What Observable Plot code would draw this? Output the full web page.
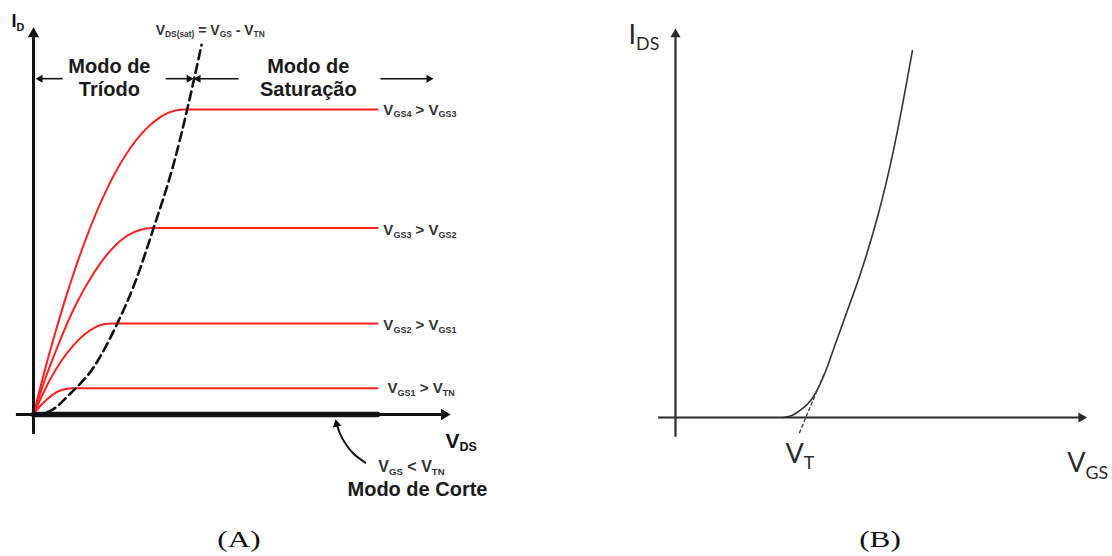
<!DOCTYPE html>
<html><head><meta charset="utf-8">
<script src="https://cdn.jsdelivr.net/npm/d3@7"></script>
<script src="https://cdn.jsdelivr.net/npm/@observablehq/plot@0.6"></script>
<style>
html,body{margin:0;padding:0;background:#fff;}
#wrap{position:relative;width:1112px;height:556px;overflow:hidden;background:#fff;}
#a,#b{position:absolute;top:0;}
#a{left:0}#b{left:556px}
.cap{position:absolute;top:526px;width:100px;text-align:center;font-family:"Liberation Serif","Times New Roman",serif;font-size:24px;line-height:27px;color:#111;transform:scaleX(1.3);transform-origin:center;}
svg text{white-space:pre;}
</style></head><body>
<div id="wrap"><div id="a"></div><div id="b"></div>
<div class="cap" style="left:189px">(A)</div><div class="cap" style="left:830px">(B)</div></div>
<script>
// ---------- Panel A: I_D vs V_DS (arbitrary units) ----------
const curveVGS4 = [[0,0],[0.36,1.5],[0.72,2.84],[1.26,4.56],[1.8,5.93],[2.34,6.93],[2.88,7.58],[3.24,7.82],[3.6,7.9],[8.25,7.9]];
const curveVGS3 = [[0,0],[0.28,0.92],[0.57,1.74],[0.99,2.79],[1.42,3.62],[1.84,4.24],[2.26,4.64],[2.55,4.78],[2.83,4.83],[8.25,4.83]];
const curveVGS2 = [[0,0],[0.19,0.45],[0.37,0.85],[0.65,1.36],[0.94,1.77],[1.22,2.07],[1.5,2.27],[1.68,2.34],[1.87,2.36],[8.25,2.36]];
const curveVGS1 = [[0,0],[0.09,0.13],[0.18,0.24],[0.32,0.39],[0.46,0.51],[0.59,0.6],[0.73,0.65],[0.82,0.67],[0.91,0.68],[8.25,0.68]];
const satLocus = [[0,0],[0.41,0.10],[0.89,0.55],[1.44,1.22],[2.01,2.36],[2.40,3.32],[2.88,4.83],[3.36,6.49],[3.69,7.92],[4.03,9.58]];
const cutoffLine = [[0,0],[8.25,0]];
const cutoffPointer = [[7.96,-1.25],[7.67,-1.01],[7.48,-0.75],[7.36,-0.52],[7.29,-0.31]];

const curveLabels = ["V_{GS4} > V_{GS3}","V_{GS3} > V_{GS2}","V_{GS2} > V_{GS1}","V_{GS1} > V_{TN}"];
const curveLabelX = [8.39, 8.39, 8.39, 8.49];
const curveLabelY = [7.77, 4.65, 2.18, 0.55];

const regionArrowFrom = [0.70, 3.17, 4.92, 8.32];
const regionArrowTo   = [0.16, 3.73, 3.95, 9.48];
const regionArrowRot  = [-90, 90, -90, 90];
const regionArrowY = 8.70;

const modeTexts = ["Modo de","Tríodo","Modo de","Saturação"];
const modeX = [1.82, 1.82, 6.59, 6.59];
const modeY = [8.86, 8.26, 8.86, 8.26];

// ---------- Panel B: I_DS vs V_GS ----------
const transferCurve = [[2.62,0],[2.84,0.06],[3.06,0.21],[3.28,0.44],[3.47,0.77],[3.67,1.26],[3.86,1.83],[4.05,2.39],[4.49,3.70],[4.90,5.14],[5.29,6.86],[5.75,9.43]];
const tangentLine = [[3.01,-0.39],[3.62,1.16]];

function applySub(svg, scale, shift) {
  for (const t of svg.querySelectorAll("text")) {
    const s = t.textContent;
    if (!s.includes("_{")) continue;
    while (t.firstChild) t.removeChild(t.firstChild);
    const parts = s.split(/_\{([^}]*)\}/);
    let prevSub = false;
    parts.forEach((p, i) => {
      if (p === "") return;
      const ts = document.createElementNS("http://www.w3.org/2000/svg", "tspan");
      ts.textContent = p;
      if (i % 2 === 1) {
        ts.setAttribute("font-size", (scale * 100) + "%");
        ts.setAttribute("dy", shift + "em");
        prevSub = true;
      } else {
        if (prevSub) ts.setAttribute("dy", (-shift * scale) + "em");
        prevSub = false;
      }
      t.appendChild(ts);
    });
  }
}

const fA = {fontFamily: "Liberation Sans, Arial, sans-serif", fontWeight: "bold"};
const red = "#ff1f1f";
const ink = "#111";

const plotA = Plot.plot({
  width: 556, height: 520,
  x: {domain: [0, 10], range: [33, 450], axis: null},
  y: {domain: [0, 10], range: [414, 28], axis: null},
  style: {background: "white", overflow: "visible"},
  marks: [
    Plot.line(curveVGS4, {stroke: red, strokeWidth: 2, curve: "monotone-x"}),
    Plot.line(curveVGS3, {stroke: red, strokeWidth: 2, curve: "monotone-x"}),
    Plot.line(curveVGS2, {stroke: red, strokeWidth: 2, curve: "monotone-x"}),
    Plot.line(curveVGS1, {stroke: red, strokeWidth: 2, curve: "monotone-x"}),
    Plot.line(satLocus, {stroke: ink, strokeWidth: 2.6, strokeDasharray: "9,5", curve: "monotone-x"}),
    // axes
    Plot.ruleY([0], {x1: -0.41, x2: 9.8, stroke: ink, strokeWidth: 3}),
    Plot.ruleX([0], {y1: -0.52, y2: 9.82, stroke: ink, strokeWidth: 3}),
    Plot.line(cutoffLine, {stroke: ink, strokeWidth: 5.5}),
    Plot.dot([[9.85, 0]], {symbol: "triangle", r: 4.2, rotate: 90, fill: ink, stroke: "none"}),
    Plot.dot([[0, 9.86]], {symbol: "triangle", r: 4.2, rotate: 0, fill: ink, stroke: "none"}),
    // region arrows
    Plot.link(d3.range(4), {x1: i => regionArrowFrom[i], x2: i => regionArrowTo[i], y1: () => regionArrowY, y2: () => regionArrowY, stroke: ink, strokeWidth: 1.6}),
    Plot.dot(d3.range(4), {x: i => regionArrowTo[i], y: () => regionArrowY, symbol: "triangle", r: 3, rotate: i => regionArrowRot[i], fill: ink, stroke: "none"}),
    // cutoff pointer
    Plot.line(cutoffPointer, {stroke: ink, strokeWidth: 2, curve: "catmull-rom"}),
    Plot.dot([[7.27, -0.25]], {symbol: "triangle", r: 3.3, rotate: -12, fill: ink, stroke: "none"}),
    // texts
    Plot.text(modeTexts, {x: (d, i) => modeX[i], y: (d, i) => modeY[i], text: d => d, ...fA, fontSize: 20, fill: "#1a1a1a", textAnchor: "middle", lineAnchor: "bottom"}),
    Plot.text(curveLabels, {x: (d, i) => curveLabelX[i], y: (d, i) => curveLabelY[i], text: d => d, ...fA, fontSize: 15, fill: "#333", textAnchor: "start", lineAnchor: "bottom"}),
    Plot.text(["I_{D}"], {x: () => -0.53, y: () => 10.03, text: d => d, ...fA, fontSize: 18, fill: ink, textAnchor: "start", lineAnchor: "bottom"}),
    Plot.text(["V_{DS(sat)} = V_{GS} - V_{TN}"], {x: () => 2.93, y: () => 9.84, text: d => d, ...fA, fontSize: 14, fill: "#333", textAnchor: "start", lineAnchor: "bottom"}),
    Plot.text(["V_{DS}"], {x: () => 9.88, y: () => -0.86, text: d => d, ...fA, fontSize: 21, fill: ink, textAnchor: "start", lineAnchor: "bottom"}),
    Plot.text(["V_{GS} < V_{TN}"], {x: () => 8.27, y: () => -1.50, text: d => d, ...fA, fontSize: 16, fill: "#333", textAnchor: "start", lineAnchor: "bottom"}),
    Plot.text(["Modo de Corte"], {x: () => 7.53, y: () => -2.12, text: d => d, ...fA, fontSize: 20, fill: "#1a1a1a", textAnchor: "start", lineAnchor: "bottom"})
  ]
});
applySub(plotA, 0.6, 0.3);
document.getElementById("a").appendChild(plotA);

const fB = {fontFamily: "Lato, Carlito, Open Sans, sans-serif", fontWeight: "normal"};
const inkB = "#2a2a2a";
const plotB = Plot.plot({
  width: 556, height: 520,
  x: {domain: [0, 10], range: [119, 531], axis: null},
  y: {domain: [0, 10], range: [417, 28], axis: null},
  style: {background: "white", overflow: "visible"},
  marks: [
    Plot.ruleY([0], {x1: -0.41, x2: 9.8, stroke: inkB, strokeWidth: 2.2}),
    Plot.ruleX([0], {y1: -0.51, y2: 9.8, stroke: inkB, strokeWidth: 2.2}),
    Plot.dot([[9.85, 0]], {symbol: "triangle", r: 3.8, rotate: 90, fill: inkB, stroke: "none"}),
    Plot.dot([[0, 9.85]], {symbol: "triangle", r: 3.8, rotate: 0, fill: inkB, stroke: "none"}),
    Plot.line(transferCurve, {stroke: "#333", strokeWidth: 1.6, curve: "catmull-rom"}),
    Plot.line(tangentLine, {stroke: "#444", strokeWidth: 1.4, strokeDasharray: "3,3"}),
    Plot.text(["I_{DS}"], {x: () => -1.14, y: () => 9.61, text: d => d, ...fB, fontSize: 27, fill: inkB, textAnchor: "start", lineAnchor: "bottom"}),
    Plot.text(["V_{T}"], {x: () => 2.67, y: () => -1.16, text: d => d, ...fB, fontSize: 27, fill: inkB, textAnchor: "start", lineAnchor: "bottom"}),
    Plot.text(["V_{GS}"], {x: () => 9.51, y: () => -1.41, text: d => d, ...fB, fontSize: 27, fill: inkB, textAnchor: "start", lineAnchor: "bottom"})
  ]
});
applySub(plotB, 0.66, 0.35);
document.getElementById("b").appendChild(plotB);
</script>
</body></html>
